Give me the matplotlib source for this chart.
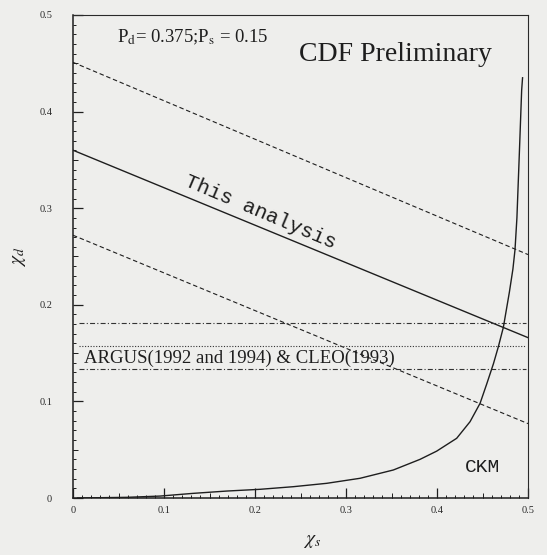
import matplotlib
matplotlib.use("Agg")
from matplotlib import pyplot as plt
import numpy as np

plt.rcParams['font.family'] = ['Liberation Serif', 'DejaVu Serif']
plt.rcParams['mathtext.fontset'] = 'stix'

# chi_s end points of the straight "This analysis" band
chi_s_ends = [0.0, 0.5]
this_analysis = [0.360, 0.166]
band_upper = [0.451, 0.252]
band_lower = [0.272, 0.077]

# ARGUS + CLEO average of chi_d
argus_x = [0.007, 0.498]
argus_mid = 0.157
argus_hi = 0.181
argus_lo = 0.1335

# CKM curve
ckm_s = [0.005, 0.059, 0.0956, 0.132, 0.169, 0.2055, 0.242, 0.2788, 0.3154,
         0.352, 0.3813, 0.3996, 0.4216, 0.4363, 0.4473, 0.4546, 0.462,
         0.4674, 0.4729, 0.4795, 0.4834, 0.4857, 0.4878, 0.4904, 0.493, 0.494]
ckm_d = [0.0, 0.0007, 0.002, 0.0048, 0.0072, 0.009, 0.0117, 0.0152, 0.0204,
         0.029, 0.040, 0.0485, 0.0618, 0.079, 0.098, 0.118, 0.139,
         0.1566, 0.1767, 0.213, 0.237, 0.257, 0.290, 0.355, 0.422, 0.435]

ticks = [0, 0.1, 0.2, 0.3, 0.4, 0.5]
tick_labels = ['0', '0.1', '0.2', '0.3', '0.4', '0.5']

paper = '#eeeeec'
ink = '#1e1e1e'

fig = plt.figure(figsize=(5.47, 5.55), dpi=100, facecolor=paper)
ax = fig.add_axes([0.1335, 0.1027, 0.8318, 0.8703], facecolor=paper)

ax.plot(chi_s_ends, this_analysis, color=ink, lw=1.0)
ax.plot(chi_s_ends, band_upper, color=ink, lw=0.8, dashes=(4, 2.5))
ax.plot(chi_s_ends, band_lower, color=ink, lw=0.8, dashes=(4, 2.5))

ax.plot(argus_x, [argus_hi, argus_hi], color='#333333', lw=0.8, dashes=(4.5, 2, 1, 2))
ax.plot(argus_x, [argus_mid, argus_mid], color='#333333', lw=0.8, dashes=(1, 1.5))
ax.plot(argus_x, [argus_lo, argus_lo], color='#333333', lw=0.8, dashes=(4.5, 2, 1, 2))

ax.plot(ckm_s, ckm_d, color=ink, lw=1.0)

ax.set_xlim(0, 0.5)
ax.set_ylim(0, 0.5)
ax.set_xticks(ticks)
ax.set_xticklabels(tick_labels)
ax.set_yticks(ticks)
ax.set_yticklabels(tick_labels)
ax.set_xticks(np.arange(0, 0.501, 0.01), minor=True)
ax.set_yticks(np.arange(0, 0.501, 0.01), minor=True)
ax.tick_params(which='major', direction='in', length=7.2, width=0.9, colors=ink,
               labelsize=7.5, labelcolor='#2a2a2a')
ax.tick_params(which='minor', direction='in', length=2.2, width=0.7, colors=ink)
ax.tick_params(axis='y', which='major', pad=15)
ax.tick_params(axis='x', which='major', pad=6)

# half-way ticks at 0.05
secx = ax.secondary_xaxis('bottom')
secx.set_xticks(np.arange(0.05, 0.5, 0.1))
secx.tick_params(direction='in', length=3.8, width=0.7, colors=ink, labelbottom=False)
secx.spines['bottom'].set_visible(False)
secy = ax.secondary_yaxis('left')
secy.set_yticks(np.arange(0.05, 0.5, 0.1))
secy.tick_params(direction='in', length=3.8, width=0.7, colors=ink, labelleft=False)
secy.spines['left'].set_visible(False)

for side in ['left', 'bottom']:
    ax.spines[side].set_linewidth(1.1)
    ax.spines[side].set_color(ink)
for side in ['top', 'right']:
    ax.spines[side].set_linewidth(0.8)
    ax.spines[side].set_color('#2a2a2a')

ax.set_xlabel(r'$\chi_s$', fontsize=14, color=ink)
ax.xaxis.set_label_coords(0.525, -0.072)
ax.set_ylabel(r'$\chi_d$', fontsize=14, color=ink)
ax.yaxis.set_label_coords(-0.098, 0.5)

ax.text(0.0484, 0.472, r'P$_\mathrm{d}$= 0.375;P$_\mathrm{s}$ = 0.15', fontsize=13.5,
        color=ink, ha='left', va='baseline')
ax.text(0.2484, 0.4524, 'CDF Preliminary', fontsize=20, color=ink,
        ha='left', va='baseline')
ax.text(0.2055, 0.296, 'This analysis', family='Liberation Mono', fontsize=15,
        color=ink, rotation=-23, rotation_mode='anchor', ha='center', va='center')
ax.text(0.0121, 0.1398, 'ARGUS(1992 and 1994) & CLEO(1993)', fontsize=13.5,
        color=ink, ha='left', va='baseline')
ax.text(0.4495, 0.032, 'CKM', family='Liberation Mono', fontsize=14, color=ink,
        ha='center', va='center')

fig.savefig('out.png', dpi=100, facecolor=paper)
